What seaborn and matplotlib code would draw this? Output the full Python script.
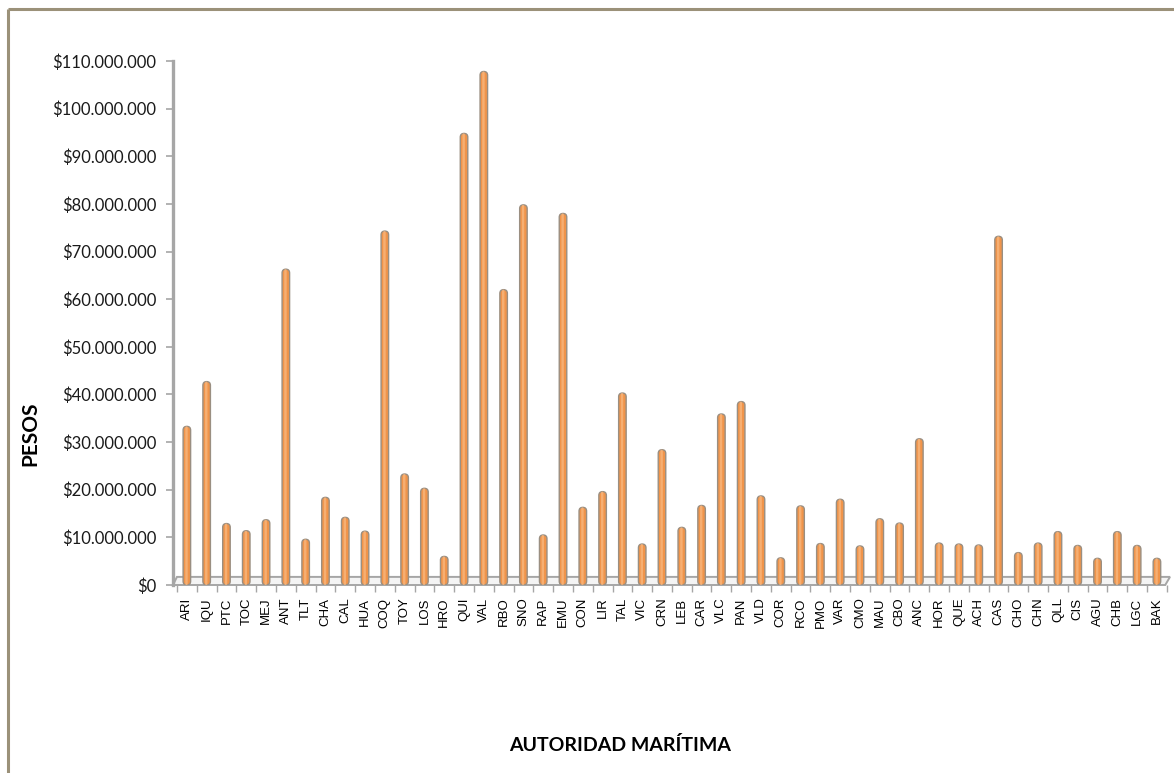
import numpy as np
import pandas as pd
import matplotlib
matplotlib.use("Agg")
import matplotlib.pyplot as plt
import seaborn as sns
from matplotlib.patches import FancyBboxPatch, Polygon
from matplotlib.lines import Line2D
from matplotlib.ticker import FuncFormatter, MultipleLocator

# Recaudación por autoridad marítima (pesos)
autoridades = [
    "ARI", "IQU", "PTC", "TOC", "MEJ", "ANT", "TLT", "CHA", "CAL", "HUA",
    "COQ", "TOY", "LOS", "HRO", "QUI", "VAL", "RBO", "SNO", "RAP", "EMU",
    "CON", "LIR", "TAL", "VIC", "CRN", "LEB", "CAR", "VLC", "PAN", "VLD",
    "COR", "RCO", "PMO", "VAR", "CMO", "MAU", "CBO", "ANC", "HOR", "QUE",
    "ACH", "CAS", "CHO", "CHN", "QLL", "CIS", "AGU", "CHB", "LGC", "BAK",
]
montos_millones = [
    33.3, 42.7, 12.9, 11.4, 13.7, 66.3, 9.6, 18.4, 14.2, 11.3,
    74.3, 23.3, 20.3, 6.0, 94.8, 107.8, 62.0, 79.8, 10.5, 78.0,
    16.3, 19.6, 40.3, 8.6, 28.4, 12.1, 16.7, 35.9, 38.5, 18.7,
    5.7, 16.6, 8.7, 18.0, 8.2, 13.9, 13.0, 30.7, 8.8, 8.6,
    8.4, 73.2, 6.8, 8.8, 11.2, 8.3, 5.6, 11.2, 8.3, 5.6,
]
y_ticks_max = 110_000_000
y_tick_step = 10_000_000

sns.set_theme(style="white")
plt.rcParams["font.family"] = ["Lato", "DejaVu Sans"]

W, H = 1174, 773
fig = plt.figure(figsize=(W / 100, H / 100), dpi=100)
fig.patch.set_facecolor("white")
ax = fig.add_axes([173 / W, 1 - 585 / H, (1170 - 173) / W, (585 - 61) / H])

df = pd.DataFrame({"autoridad": autoridades,
                   "monto": np.array(montos_millones) * 1e6})

bar_fc = "#F0944A"
bar_ec = "#9A8F82"
sns.barplot(data=df, x="autoridad", y="monto", ax=ax, color=bar_fc,
            saturation=1, width=0.38, edgecolor=bar_ec, linewidth=1.0,
            errorbar=None)

x_lo, x_hi = -0.7, 49.66
ax.set_xlim(x_lo, x_hi)
ax.set_ylim(0, y_ticks_max)

# turn the flat bars into rounded "cylinders"
ax_w_px = (1170 - 173)
ax_h_px = (585 - 61)
px_per_x = ax_w_px / (x_hi - x_lo)
px_per_y = ax_h_px / y_ticks_max
aspect = px_per_x / px_per_y

bars = list(ax.patches)
for p in bars:
    x0, w, h = p.get_x(), p.get_width(), p.get_height()
    p.remove()
    body = FancyBboxPatch((x0, 0), w, h,
                          boxstyle=f"round,pad=0,rounding_size={w / 2}",
                          mutation_aspect=aspect, fc=bar_fc, ec=bar_ec,
                          lw=1.0, zorder=3)
    ax.add_patch(body)
    hw = w * 0.32
    shine = FancyBboxPatch((x0 + w / 2 - hw / 2 - w * 0.05, 0), hw, h,
                           boxstyle=f"round,pad=0,rounding_size={hw / 2}",
                           mutation_aspect=aspect, fc="#F8B47A", ec="none",
                           lw=0, zorder=4, alpha=0.85)
    ax.add_patch(shine)

# floor of the 3D plot area
floor_depth = 1.7e6
floor = Polygon([(x_lo, 0), (49.42, 0), (x_hi, floor_depth),
                 (x_lo + 0.2, floor_depth)], closed=True,
                fc="#F4F4F4", ec="#A6A6A6", lw=1.4, zorder=2, clip_on=False)
ax.add_patch(floor)

# axes styling
for s in ["top", "right", "bottom"]:
    ax.spines[s].set_visible(False)
ax.spines["left"].set_color("#A6A6A6")
ax.spines["left"].set_linewidth(2.4)
ax.spines["left"].set_zorder(5)

ax.yaxis.set_major_locator(MultipleLocator(y_tick_step))
ax.yaxis.set_major_formatter(
    FuncFormatter(lambda v, _: "$" + f"{int(round(v)):,}".replace(",", ".")))
ax.tick_params(axis="y", which="major", left=True, length=5, width=1.2,
               color="#A6A6A6", pad=7, labelsize=12, labelcolor="#1a1a1a")

ax.set_xticks(np.arange(-0.5, len(autoridades), 1.0), minor=True)
ax.tick_params(axis="x", which="minor", bottom=True, length=5, width=1.0,
               color="#A6A6A6")
ax.tick_params(axis="x", which="major", bottom=False, length=0, pad=9)
ax.set_xticklabels(autoridades, rotation=90, fontsize=9.5,
                   family=["Liberation Sans", "DejaVu Sans"], color="black")
ax.set_xlabel("")
ax.set_ylabel("")

fig.text(30 / W, 1 - 434 / H, "PESOS", rotation=90, ha="center",
         va="center", fontsize=15, fontweight="bold", color="black")
fig.text(620 / W, 1 - 745 / H, "AUTORIDAD MARÍTIMA", ha="center",
         va="center", fontsize=14, fontweight="bold", color="black")

# chart-area frame
frame_c = "#9B9179"
fig.add_artist(Line2D([8 / W, 1], [1 - 9 / H, 1 - 9 / H], color=frame_c,
                      lw=2.2, solid_capstyle="butt"))
fig.add_artist(Line2D([8 / W, 8 / W], [1 - 9 / H, 0], color=frame_c,
                      lw=2.2, solid_capstyle="butt"))

fig.savefig("out.png", dpi=100, facecolor="white")
